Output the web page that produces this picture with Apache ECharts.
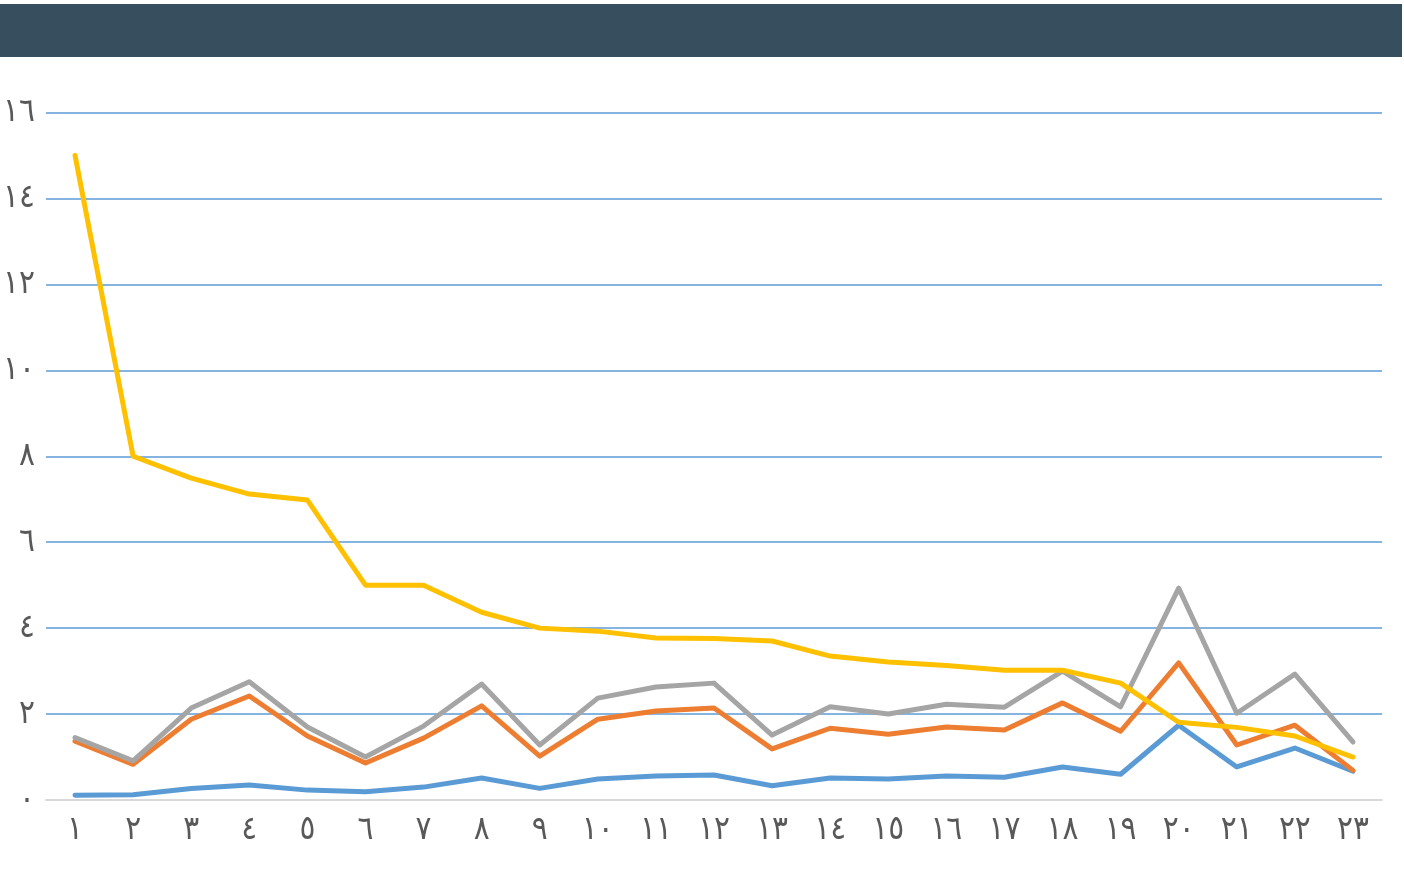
<!DOCTYPE html>
<html>
<head>
<meta charset="utf-8">
<script src="https://cdn.jsdelivr.net/npm/echarts@6/dist/echarts.min.js"></script>
<style>
  html, body { margin: 0; padding: 0; background: #fff; }
  #main { width: 1404px; height: 881px; }
</style>
</head>
<body>
<div id="main"></div>
<script>
// x categories (Arabic-Indic numerals)
var categories = ['١','٢','٣','٤','٥','٦','٧','٨','٩','١٠','١١','١٢','١٣','١٤','١٥','١٦','١٧','١٨','١٩','٢٠','٢١','٢٢','٢٣'];
// y tick labels, index = value / 2
var yTickLabels = ['٠','٢','٤','٦','٨','١٠','١٢','١٤','١٦'];

var blueValues   = [0.11, 0.12, 0.27, 0.35, 0.23, 0.19, 0.30, 0.51, 0.27, 0.49, 0.56, 0.58, 0.33, 0.51, 0.49, 0.56, 0.53, 0.77, 0.60, 1.74, 0.77, 1.21, 0.67];
var orangeValues = [1.37, 0.83, 1.88, 2.42, 1.49, 0.86, 1.44, 2.19, 1.02, 1.88, 2.07, 2.14, 1.19, 1.67, 1.53, 1.70, 1.63, 2.26, 1.60, 3.19, 1.28, 1.74, 0.69];
var grayValues   = [1.45, 0.91, 2.14, 2.75, 1.70, 1.00, 1.72, 2.70, 1.28, 2.37, 2.63, 2.72, 1.51, 2.17, 2.00, 2.23, 2.16, 3.00, 2.17, 4.93, 2.02, 2.93, 1.35];
var yellowValues = [15.0, 8.0, 7.49, 7.12, 6.98, 5.0, 5.0, 4.37, 4.0, 3.93, 3.77, 3.76, 3.70, 3.35, 3.21, 3.13, 3.02, 3.02, 2.72, 1.81, 1.69, 1.49, 1.0];

var chart = echarts.init(document.getElementById('main'));

function lineSeries(data, color) {
  return {
    type: 'line',
    data: data,
    symbol: 'none',
    lineStyle: { color: color, width: 5, cap: 'round', join: 'round' },
    itemStyle: { color: color }
  };
}

var labelFont = '"DejaVu Sans Condensed", "DejaVu Sans", sans-serif';

var option = {
  backgroundColor: '#ffffff',
  animation: false,
  graphic: [{
    type: 'rect',
    shape: { x: 0, y: 4, width: 1402, height: 53 },
    style: { fill: '#364e5e' }
  }],
  grid: { left: 46, right: 22, top: 112.5, bottom: 81, containLabel: false, outerBoundsMode: 'none' },
  xAxis: {
    type: 'category',
    data: categories,
    boundaryGap: true,
    axisLine: { show: true, lineStyle: { color: '#d9d9d9', width: 2 } },
    axisTick: { show: false },
    axisLabel: {
      margin: 14,
      color: '#595959',
      fontSize: 33,
      fontFamily: labelFont
    }
  },
  yAxis: {
    type: 'value',
    min: 0,
    max: 16,
    interval: 2,
    axisLine: { show: false },
    axisTick: { show: false },
    splitLine: { lineStyle: { color: '#5b9bd5', width: 1.5 } },
    axisLabel: {
      margin: 11,
      color: '#595959',
      fontSize: 33,
      fontFamily: labelFont,
      padding: [0, 0, 10, 0],
      formatter: function (v) { return yTickLabels[Math.round(v / 2)]; }
    }
  },
  series: [
    lineSeries(blueValues, '#5b9bd5'),
    lineSeries(orangeValues, '#ed7d31'),
    lineSeries(grayValues, '#a5a5a5'),
    lineSeries(yellowValues, '#ffc000')
  ]
};

chart.setOption(option);
</script>
</body>
</html>
